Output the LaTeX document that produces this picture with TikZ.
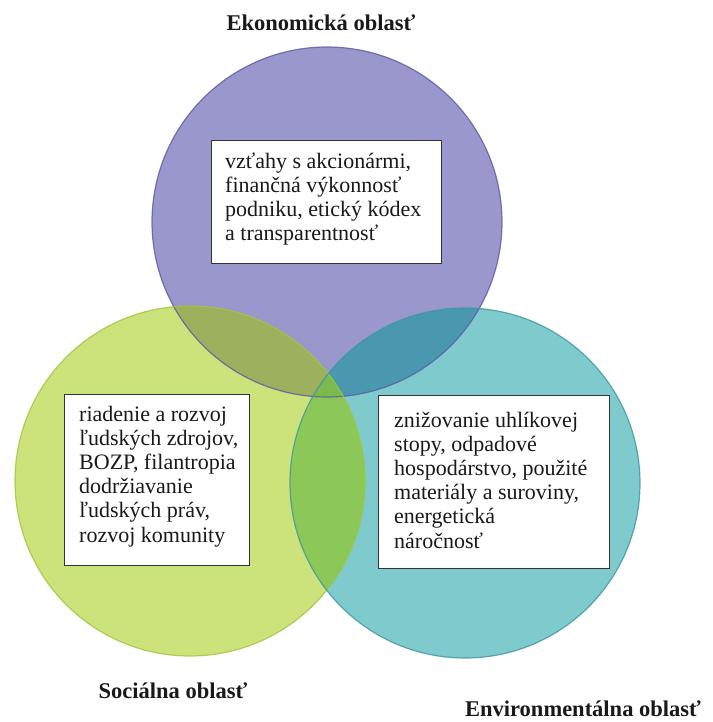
\documentclass[tikz,border=0pt]{standalone}
\usepackage{fontspec}
\setmainfont{Liberation Serif}
\definecolor{ecofill}{RGB}{153,151,204}
\definecolor{ecoedge}{RGB}{92,90,162}
\definecolor{socfill}{RGB}{204,226,122}
\definecolor{socedge}{RGB}{158,198,62}
\definecolor{envfill}{RGB}{126,202,204}
\definecolor{envedge}{RGB}{62,150,162}
\definecolor{ecosoc}{RGB}{156,176,94}
\definecolor{ecoenv}{RGB}{74,152,176}
\definecolor{socenv}{RGB}{140,200,88}
\definecolor{allthree}{RGB}{124,186,80}
\definecolor{inktext}{RGB}{25,25,25}
\tikzset{
  infobox/.style={draw=black!80, line width=1pt, fill=white, inner sep=0pt, anchor=north west},
  infotext/.style={text=inktext, inner sep=0pt, anchor=north west, align=left,
    font=\fontsize{22}{24.2}\selectfont},
  areatitle/.style={text=inktext, inner sep=0pt, anchor=base,
    font=\fontsize{22.5}{26}\selectfont\bfseries},
}
\begin{document}
\begin{tikzpicture}[x=1pt, y=-1pt]
\useasboundingbox (0,0) rectangle (712,722);
% circle centres
\coordinate (ce) at (327,222);
\coordinate (cs) at (190,481);
\coordinate (cn) at (465,483);
\def\rad{175pt}
% base fills
\fill[ecofill] (ce) circle[radius=\rad];
\fill[socfill] (cs) circle[radius=\rad];
\fill[envfill] (cn) circle[radius=\rad];
% pairwise overlaps
\begin{scope}
  \clip (ce) circle[radius=\rad];
  \fill[ecosoc] (cs) circle[radius=\rad];
  \fill[ecoenv] (cn) circle[radius=\rad];
\end{scope}
\begin{scope}
  \clip (cs) circle[radius=\rad];
  \fill[socenv] (cn) circle[radius=\rad];
  \clip (cn) circle[radius=\rad];
  \fill[allthree] (ce) circle[radius=\rad];
\end{scope}
% outlines
\draw[ecoedge, line width=1.2pt, opacity=0.8] (ce) circle[radius=\rad];
\draw[socedge, line width=1.2pt, opacity=0.8] (cs) circle[radius=\rad];
\draw[envedge, line width=1.2pt, opacity=0.8] (cn) circle[radius=\rad];
% text boxes
\node[infobox, minimum width=230pt, minimum height=123pt] (ekobox) at (211,140) {};
\node[infotext] (ekotext) at (225,151) {\strut vzťahy s akcionármi,\\finančná výkonnosť\\podniku, etický kódex\\a transparentnosť};
\node[infobox, minimum width=185pt, minimum height=171pt] (socbox) at (64,394) {};
\node[infotext] (soctext) at (79,404) {\strut riadenie a rozvoj\\ľudských zdrojov,\\BOZP, filantropia\\dodržiavanie\\ľudských práv,\\rozvoj komunity};
\node[infobox, minimum width=231pt, minimum height=173pt] (envbox) at (378,395) {};
\node[infotext] (envtext) at (394,410) {\strut znižovanie uhlíkovej\\stopy, odpadové\\hospodárstvo, použité\\materiály a suroviny,\\energetická\\náročnosť};
% area titles
\node[areatitle] (ekotitle) at (321,31) {Ekonomická oblasť};
\node[areatitle] (soctitle) at (173,698) {Sociálna oblasť};
\node[areatitle] (envtitle) at (583,716) {Environmentálna oblasť};
\end{tikzpicture}
\end{document}
